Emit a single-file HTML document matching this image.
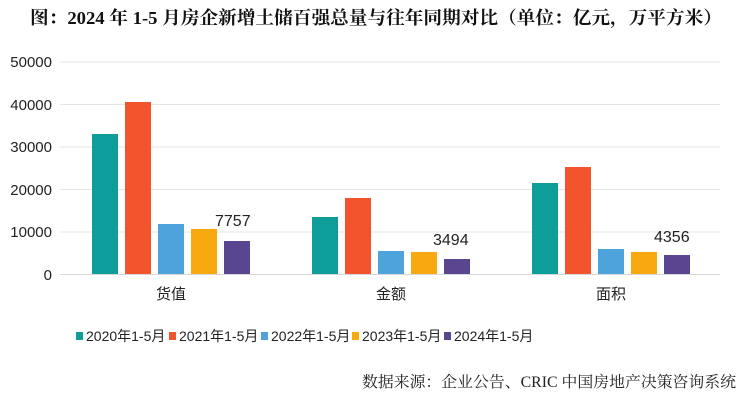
<!DOCTYPE html>
<html><head><meta charset="utf-8"><style>
html,body{margin:0;padding:0;background:#fff;}
svg{display:block;}
.t{font-family:"Liberation Serif","Noto Serif CJK SC",serif;}
.s{font-family:"Liberation Sans","Noto Sans CJK SC",sans-serif;}
</style></head><body>
<svg width="740" height="407" xmlns="http://www.w3.org/2000/svg">
<rect width="740" height="407" fill="#fff"/>
<text class="t" x="30" y="24" font-size="18" font-weight="bold" fill="#111" textLength="692" lengthAdjust="spacingAndGlyphs">图：2024 年 1-5 月房企新增土储百强总量与往年同期对比（单位：亿元，万平方米）</text>
<g stroke="#e6e6e6" stroke-width="1">
<line x1="60" y1="62" x2="720" y2="62"/>
<line x1="60" y1="104.5" x2="720" y2="104.5"/>
<line x1="60" y1="147" x2="720" y2="147"/>
<line x1="60" y1="189.5" x2="720" y2="189.5"/>
<line x1="60" y1="232" x2="720" y2="232"/>
<line x1="60" y1="274.5" x2="720" y2="274.5" stroke="#d8d8d8"/>
</g>
<g class="s" font-size="15" fill="#222" text-anchor="end">
<text x="52" y="67">50000</text><text x="52" y="110">40000</text><text x="52" y="152">30000</text>
<text x="52" y="195">20000</text><text x="52" y="237">10000</text><text x="52" y="280">0</text>
</g>
<rect x="92" y="134" width="26" height="140" fill="#0e9e9a"/>
<rect x="125" y="102" width="26" height="172" fill="#f2542d"/>
<rect x="158" y="224" width="26" height="50" fill="#4fa3dc"/>
<rect x="191" y="229" width="26" height="45" fill="#f7a90f"/>
<rect x="224" y="241" width="26" height="33" fill="#5a4591"/>
<rect x="312" y="217" width="26" height="57" fill="#0e9e9a"/>
<rect x="345" y="198" width="26" height="76" fill="#f2542d"/>
<rect x="378" y="251" width="26" height="23" fill="#4fa3dc"/>
<rect x="411" y="252" width="26" height="22" fill="#f7a90f"/>
<rect x="444" y="259" width="26" height="15" fill="#5a4591"/>
<rect x="532" y="183" width="26" height="91" fill="#0e9e9a"/>
<rect x="565" y="167" width="26" height="107" fill="#f2542d"/>
<rect x="598" y="249" width="26" height="25" fill="#4fa3dc"/>
<rect x="631" y="252" width="26" height="22" fill="#f7a90f"/>
<rect x="664" y="255" width="26" height="19" fill="#5a4591"/>
<g class="s" font-size="16" fill="#222">
<text x="215" y="226">7757</text><text x="433" y="245">3494</text><text x="654" y="242">4356</text>
</g>
<g class="s" font-size="15" fill="#222" text-anchor="middle">
<text x="171" y="299">货值</text><text x="391" y="299">金额</text><text x="611" y="299">面积</text>
</g>
<g class="s" font-size="14" fill="#222">
<rect x="76" y="332" width="7" height="8" fill="#0e9e9a"/><text x="86" y="341">2020年1-5月</text>
<rect x="169" y="332" width="7" height="8" fill="#f2542d"/><text x="179" y="341">2021年1-5月</text>
<rect x="261" y="332" width="7" height="8" fill="#4fa3dc"/><text x="271" y="341">2022年1-5月</text>
<rect x="352" y="332" width="7" height="8" fill="#f7a90f"/><text x="362" y="341">2023年1-5月</text>
<rect x="444" y="332" width="7" height="8" fill="#5a4591"/><text x="454" y="341">2024年1-5月</text>
</g>
<text class="t" x="362" y="387" font-size="15.5" fill="#222" textLength="374" lengthAdjust="spacingAndGlyphs">数据来源：企业公告、CRIC 中国房地产决策咨询系统</text>
</svg>
</body></html>
